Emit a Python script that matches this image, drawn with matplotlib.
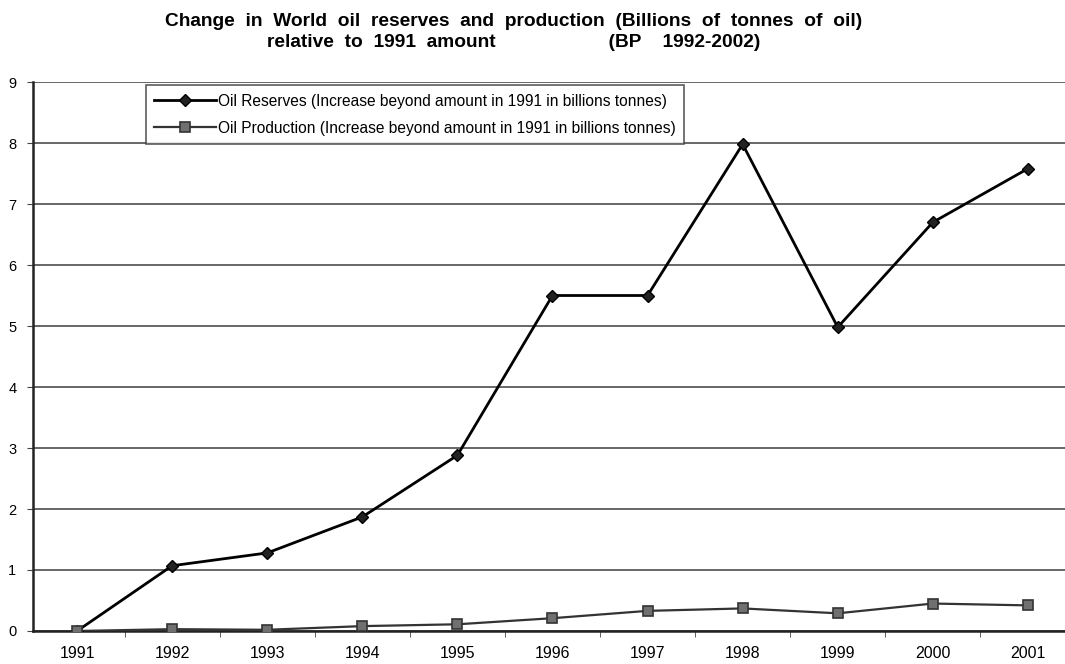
import matplotlib
matplotlib.use("Agg")
import matplotlib.pyplot as plt
from matplotlib.ticker import FixedLocator, NullFormatter

years = ["1991", "1992", "1993", "1994", "1995", "1996",
         "1997", "1998", "1999", "2000", "2001"]
reserves = [0.0, 1.07, 1.28, 1.87, 2.88, 5.5, 5.5, 7.98, 4.98, 6.7, 7.58]
production = [0.0, 0.03, 0.02, 0.08, 0.11, 0.21, 0.33, 0.37, 0.29, 0.45, 0.42]
y_ticks = list(range(0, 10))

label_reserves = "Oil Reserves (Increase beyond amount in 1991 in billions tonnes)"
label_production = "Oil Production (Increase beyond amount in 1991 in billions tonnes)"
title = ("Change  in  World  oil  reserves  and  production  (Billions  of  tonnes  of  oil)\n"
         "relative  to  1991  amount                     (BP    1992-2002)")

plt.rcParams["font.family"] = ["Liberation Sans", "DejaVu Sans"]

fig = plt.figure(figsize=(10.65, 6.64), dpi=100)
ax = fig.add_axes([0.031, 0.0497, 0.969, 0.8268])

x = list(range(len(years)))
ax.plot(x, reserves, color="black", lw=2.0, marker="D", ms=6,
        mfc="#222222", mec="black", label=label_reserves, zorder=3)
ax.plot(x, production, color="#333333", lw=1.6, marker="s", ms=7,
        mfc="#707070", mec="#333333", mew=1.2, label=label_production, zorder=3)

ax.set_xlim(-0.463, 10.39)
ax.set_ylim(0, 9)
ax.set_yticks(y_ticks)
ax.set_yticklabels([str(v) for v in y_ticks], fontsize=10.5)
ax.set_xticks(x)
ax.set_xticklabels(years, fontsize=11.5)
ax.tick_params(axis="x", which="major", length=0, pad=11)
ax.xaxis.set_minor_locator(FixedLocator([i + 0.5 for i in range(len(years) - 1)]))
ax.xaxis.set_minor_formatter(NullFormatter())
ax.tick_params(axis="x", which="minor", length=4, direction="out", color="#444444")
ax.tick_params(axis="y", length=4, direction="out", color="#444444", pad=8)

ax.grid(axis="y", color="#5a5a5a", lw=1.3)
ax.set_axisbelow(True)
for side in ("top", "right"):
    ax.spines[side].set_visible(False)
ax.spines["left"].set_linewidth(1.8)
ax.spines["bottom"].set_linewidth(1.8)
ax.spines["left"].set_color("#222222")
ax.spines["bottom"].set_color("#222222")

leg = ax.legend(loc="upper left", bbox_to_anchor=(0.109, 0.994), fontsize=11.2,
                frameon=True, fancybox=False, edgecolor="#333333",
                handlelength=4.0, borderpad=0.55, labelspacing=0.75,
                handletextpad=0.1, borderaxespad=0)
leg.get_frame().set_linewidth(1.2)

fig.text(0.482, 0.952, title, ha="center", va="center", fontsize=13.8,
         fontweight="bold", linespacing=1.35)

fig.savefig("out.png", dpi=100)
